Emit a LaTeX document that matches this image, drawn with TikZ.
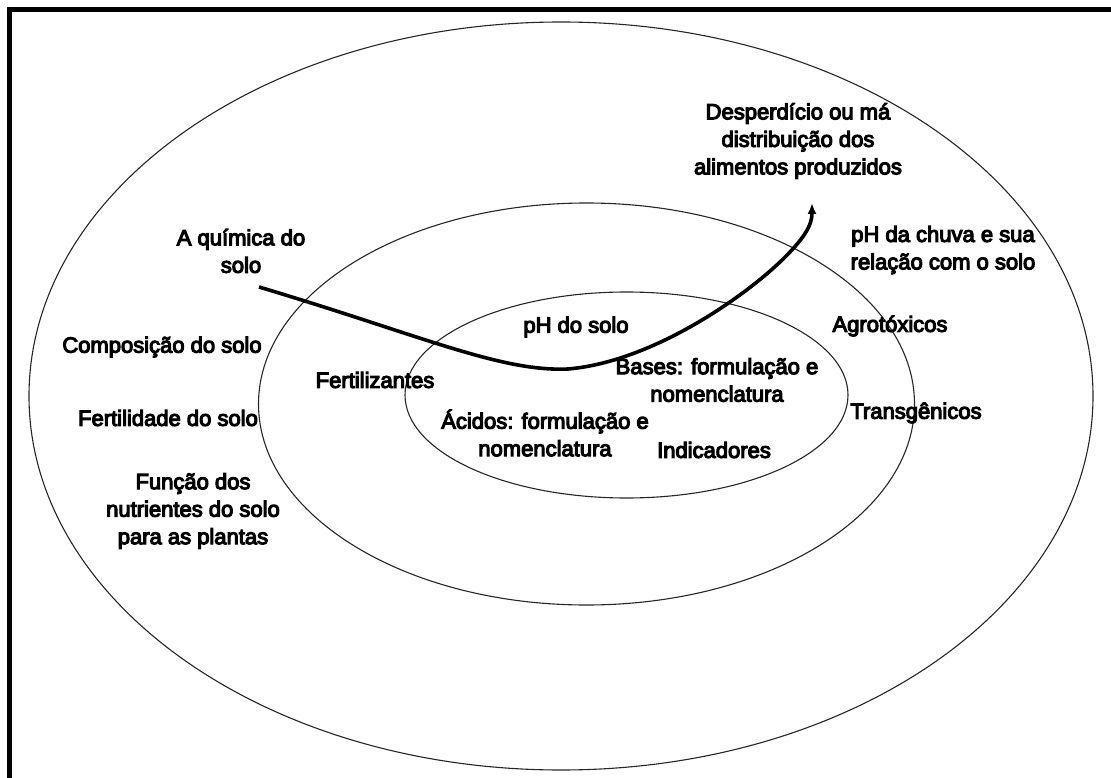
\documentclass[tikz,border=0pt]{standalone}
\usepackage{fontspec}
\setmainfont{Liberation Sans}[RawFeature={embolden=5}]
\usetikzlibrary{arrows.meta}
\begin{document}
\begin{tikzpicture}[x=1pt,y=-1pt,
  ring/.style={draw=black!85,line width=1.1pt},
  lbl/.style={align=center,inner sep=0pt,font=\fontsize{22}{27.5}\selectfont},
  flow/.style={line width=3.6pt,-{Latex[length=11pt,width=9pt]}}]
\useasboundingbox (0,0) rectangle (1111,778);
% frame along the top and left edges
\draw[line width=5pt] (9.5,778) -- (9.5,9.5) -- (1111,9.5);
% concentric rings
\draw[ring] (561,396) ellipse [x radius=532,y radius=374];
\draw[ring] (586.5,404) ellipse [x radius=328,y radius=201];
\draw[ring] (626.5,395) ellipse [x radius=221.5,y radius=103];
% labels, outer ring
\node[lbl] (desp) at (798,141) {Desperdício ou má\\distribuição dos\\alimentos produzidos};
\node[lbl] (chuva) at (943,250) {pH da chuva e sua\\relação com o solo};
\node[lbl] (quim) at (241,251) {A química do\\solo};
\node[lbl] (comp) at (162,347) {Composição do solo};
\node[lbl] (fert) at (168,418) {Fertilidade do solo};
\node[lbl] (func) at (193,511) {Função dos\\nutrientes do solo\\para as plantas};
% labels, middle ring
\node[lbl] (fertz) at (375,380) {Fertilizantes};
\node[lbl] (agro) at (890,326) {Agrotóxicos};
\node[lbl] (trans) at (916,413) {Transgênicos};
% labels, inner ring
\node[lbl] (phs) at (576,327) {pH do solo};
\node[lbl] (bases) at (717,380) {Bases: formulação e\\nomenclatura};
\node[lbl] (acid) at (545,433) {Ácidos: formulação e\\nomenclatura};
\node[lbl] (indic) at (714,450) {Indicadores};
% path of the study route
\coordinate (from) at (259,287);
\coordinate (low) at (568,369);
\coordinate (mid) at (780,262);
\coordinate (to) at (812,203);
\draw[flow] (from) .. controls (420,335) and (500,372) .. (low)
  .. controls (650,362) and (740,300) .. (mid)
  .. controls (805,238) and (812,225) .. (to);
\end{tikzpicture}
\end{document}
